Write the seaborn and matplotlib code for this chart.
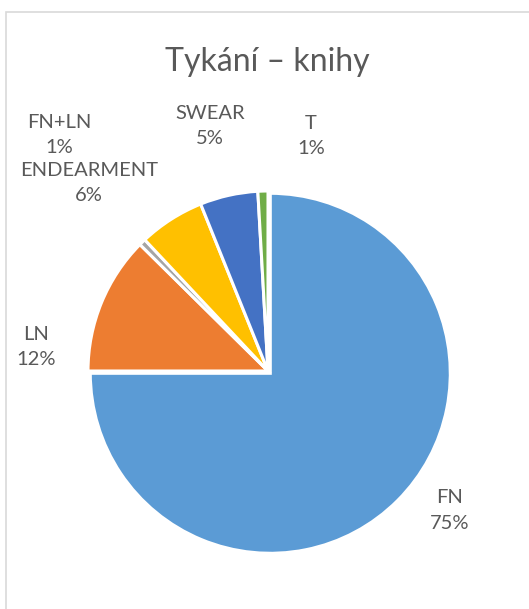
import matplotlib
matplotlib.use('Agg')
import matplotlib.pyplot as plt
from matplotlib.patches import Rectangle
import seaborn as sns

# Values (shares in percent), clockwise from 12 o'clock.
categories = ['FN', 'LN', 'FN+LN', 'ENDEARMENT', 'SWEAR', 'T']
shares = [75.0, 12.4, 0.6, 5.9, 5.2, 0.9]
colors = ['#5B9BD5', '#ED7D31', '#A5A5A5', '#FFC000', '#4472C4', '#70AD47']
title = 'Tykání – knihy'

# Where the labels sit, in pie-radius units around the centre.
label_pos = [(1.007, -0.775), (-1.289, 0.133), (-1.158, 1.311),
             (-0.994, 1.044), (-0.322, 1.361), (0.239, 1.306)]

sns.set_theme(style='white')
plt.rcParams['font.family'] = ['Lato', 'DejaVu Sans']

W, H = 529, 609
fig = plt.figure(figsize=(W / 100, H / 100), dpi=100)

# Pie centre and radius, in pixels.
cx, cy, r = 268, 371, 180
ax = fig.add_axes([(cx - r) / W, (H - cy - r) / H, 2 * r / W, 2 * r / H])

explode = [0.018] + [0] * (len(shares) - 1)
wedges, _ = ax.pie(shares, colors=sns.color_palette(colors), startangle=90,
                   counterclock=False, explode=explode, radius=1,
                   wedgeprops=dict(edgecolor='white', linewidth=2.2))
ax.set_xlim(-1, 1)
ax.set_ylim(-1, 1)
ax.set_aspect('auto')
ax.axis('off')

total = sum(shares)
for name, val, (x, y) in zip(categories, shares, label_pos):
    ax.text(x, y, f'{name}\n{val / total * 100:.0f}%', ha='center', va='center',
            fontsize=14.5, color='#595959', linespacing=1.6)

fig.text(267.5 / W, 1 - 71 / H, title, ha='center', va='baseline',
         fontsize=23, color='#595959')

# Light grey chart-area frame, cut off at the right and bottom.
fig.patches.append(Rectangle((6 / W, -0.1), 1.2, 1 - 12 / H + 0.1,
                             transform=fig.transFigure, fill=False,
                             edgecolor='#D9D9D9', linewidth=1.2))

fig.savefig('out.png', dpi=100, facecolor='white')
